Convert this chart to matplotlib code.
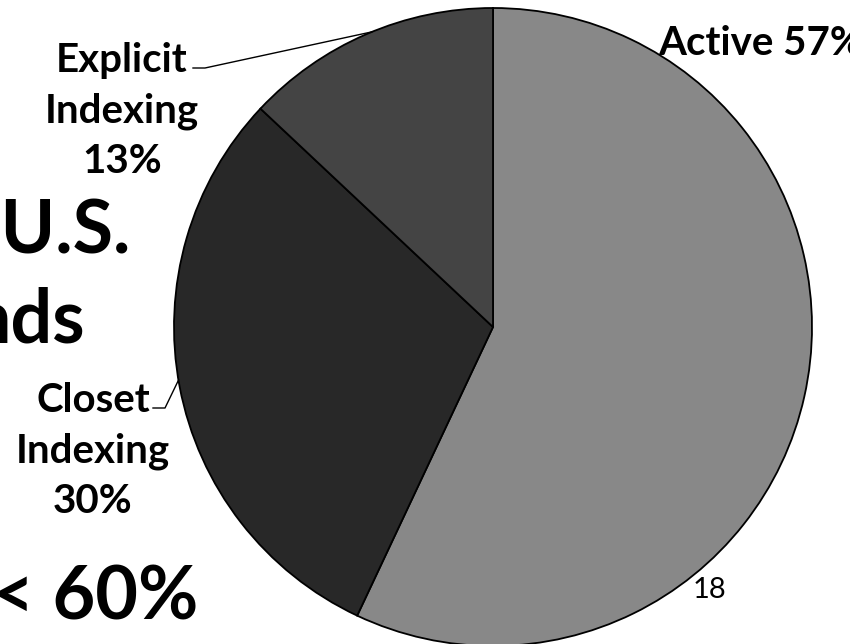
"""Share of active vs. indexing funds, pie slide crop.

    python plot.py
"""

import numpy as np
import matplotlib
matplotlib.use("Agg")
import matplotlib.pyplot as plt

labels = ["Active", "Closet\nIndexing", "Explicit\nIndexing"]
shares = [57, 30, 13]
colors = ["#888888", "#282828", "#444444"]

W, H = 850, 644
CX, CY, R = 493, H - 327, 319
FONT = ["Lato", "DejaVu Sans"]


def edge_point(deg):
    a = np.radians(deg)
    return CX + R * np.cos(a), CY + R * np.sin(a)


def main():
    fig = plt.figure(figsize=(W / 100, H / 100), dpi=100)
    ax = fig.add_axes([0, 0, 1, 1])

    ax.pie(shares, colors=colors, startangle=90, counterclock=False,
           center=(CX, CY), radius=R, frame=True,
           wedgeprops=dict(edgecolor="black", linewidth=1.3))
    ax.set_xlim(0, W)
    ax.set_ylim(0, H)
    ax.set_aspect("equal")
    ax.axis("off")

    lab = dict(fontsize=29, fontweight="bold", family=FONT, color="black")

    # Active
    ax.text(658, H - 55, f"{labels[0]} {shares[0]}%", ha="left", va="baseline", **lab)

    # Explicit Indexing (anchor = baseline of last line)
    ax.text(122, H - 173, f"{labels[2]}\n{shares[2]}%", ha="center", va="baseline",
            multialignment="center", linespacing=1.44, **lab)
    ex, ey = edge_point(112.3)
    ax.plot([193, 205, ex], [H - 68, H - 68, ey], color="black", lw=1)

    # Closet Indexing
    ax.text(93, H - 513, f"{labels[1]}\n{shares[1]}%", ha="center", va="baseline",
            multialignment="center", linespacing=1.44, **lab)
    cx, cy = edge_point(189.6)
    ax.plot([153, 165, cx], [H - 408, H - 408, cy], color="black", lw=1)

    # slide text cut off on the left
    big = dict(fontsize=53, fontweight="bold", family=FONT, color="black",
               ha="right", va="baseline")
    ax.text(131, H - 253, "-U.S.", **big)
    ax.text(85, H - 342, "nds", **big)
    ax.text(198, H - 619, "< 60%", **big)

    # page number
    ax.text(693, H - 598, "18", ha="left", va="baseline", fontsize=21,
            family=FONT, color="black")

    fig.savefig("out.png", dpi=100)


if __name__ == "__main__":
    main()
